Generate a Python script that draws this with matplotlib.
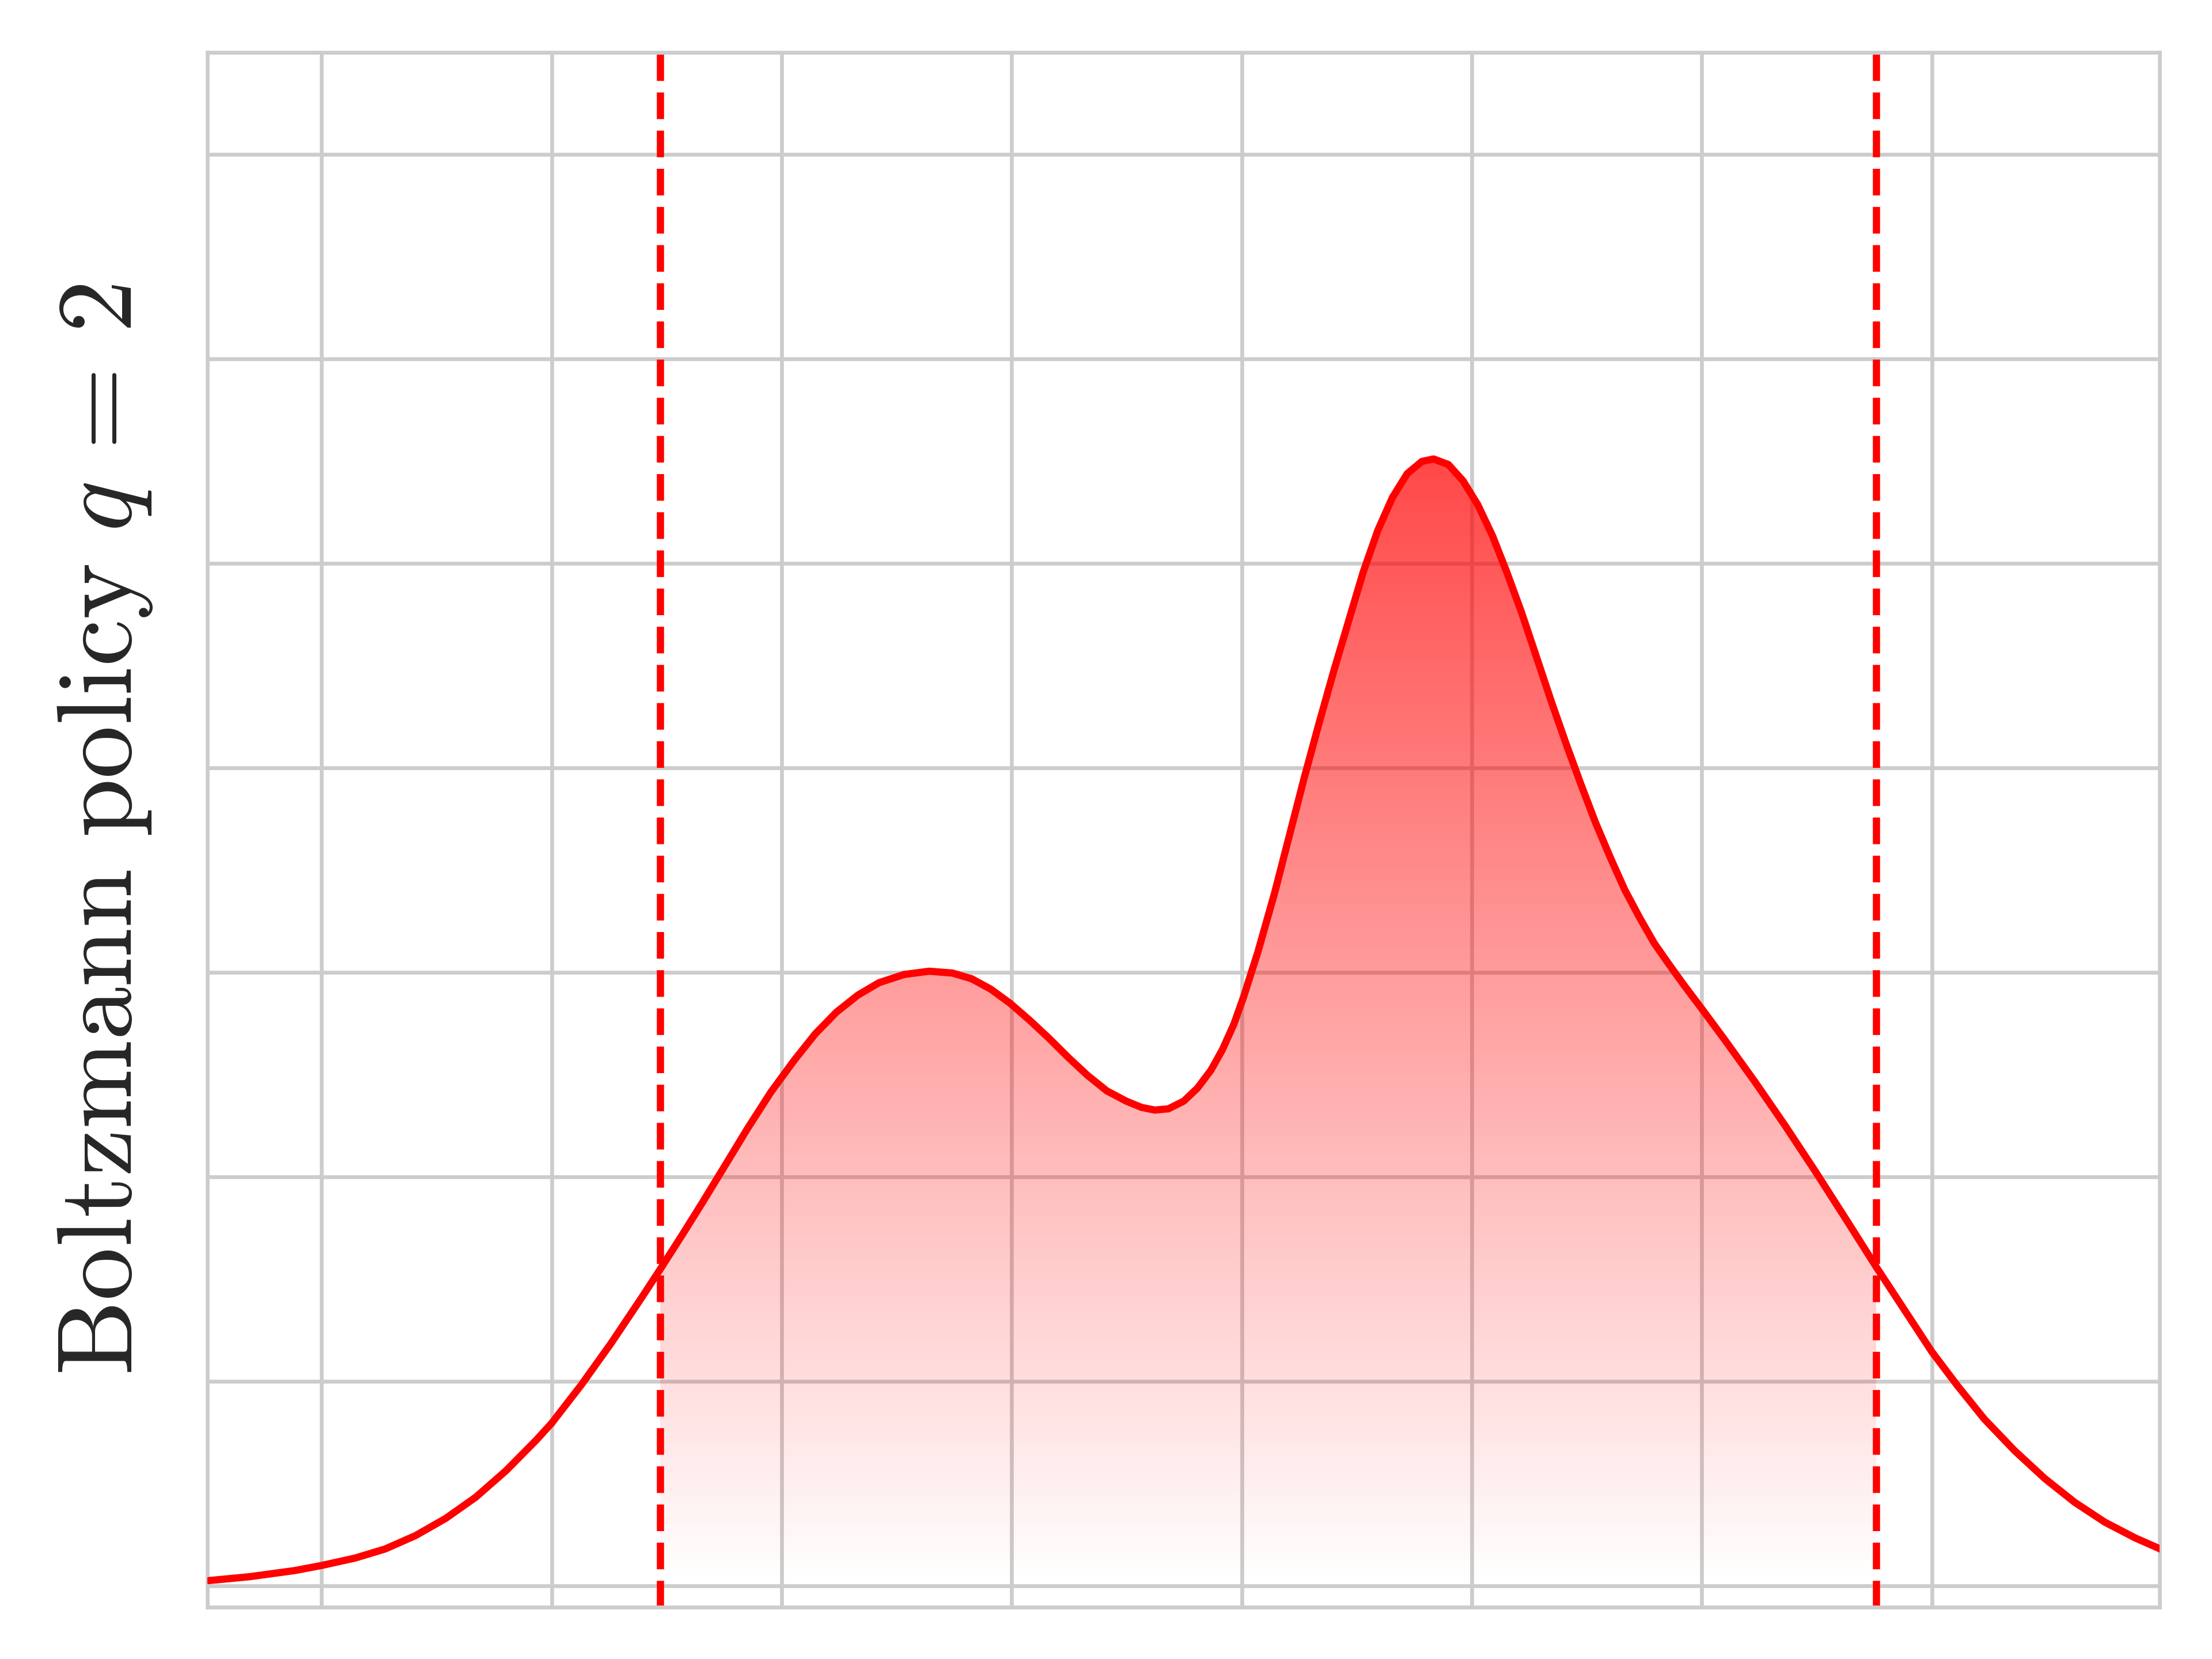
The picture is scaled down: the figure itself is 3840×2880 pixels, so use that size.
import numpy as np
import matplotlib
matplotlib.use("Agg")
import matplotlib.pyplot as plt
import seaborn as sns

# ---- data (x in grid units, y in grid units) ----
x_vals = [-0.490, -0.313, -0.117, 0.000, 0.145, 0.277, 0.408, 0.539, 0.670, 0.801,
          0.932, 1.000, 1.128, 1.259, 1.390, 1.472, 1.567, 1.651, 1.752, 1.852,
          1.953, 2.054, 2.146, 2.238, 2.331, 2.423, 2.532, 2.641, 2.742, 2.826,
          2.909, 2.993, 3.077, 3.161, 3.245, 3.329, 3.413, 3.497, 3.564, 3.622,
          3.681, 3.748, 3.807, 3.866, 3.916, 3.966, 4.008, 4.070, 4.143, 4.207,
          4.271, 4.335, 4.399, 4.463, 4.527, 4.591, 4.655, 4.719, 4.783, 4.834,
          4.898, 4.962, 5.026, 5.090, 5.153, 5.217, 5.281, 5.345, 5.409, 5.473,
          5.537, 5.601, 5.665, 5.729, 5.793, 5.857, 5.921, 6.000, 6.100, 6.231,
          6.362, 6.493, 6.625, 6.758, 6.887, 7.000, 7.110, 7.228, 7.360, 7.491,
          7.622, 7.753, 7.885, 7.996]
y_vals = [0.026, 0.045, 0.075, 0.100, 0.136, 0.181, 0.246, 0.330, 0.434, 0.563,
          0.712, 0.796, 0.982, 1.188, 1.408, 1.549, 1.716, 1.867, 2.053, 2.238,
          2.415, 2.570, 2.700, 2.806, 2.889, 2.950, 2.990, 3.006, 2.997, 2.969,
          2.918, 2.849, 2.767, 2.679, 2.585, 2.497, 2.421, 2.371, 2.340, 2.327,
          2.333, 2.371, 2.434, 2.522, 2.623, 2.748, 2.881, 3.100, 3.390, 3.670,
          3.950, 4.215, 4.471, 4.713, 4.955, 5.161, 5.323, 5.439, 5.499, 5.511,
          5.484, 5.404, 5.287, 5.135, 4.955, 4.758, 4.543, 4.327, 4.121, 3.924,
          3.735, 3.565, 3.404, 3.269, 3.143, 3.040, 2.940, 2.822, 2.670, 2.465,
          2.251, 2.028, 1.796, 1.560, 1.339, 1.145, 0.981, 0.816, 0.661, 0.525,
          0.408, 0.311, 0.234, 0.179]
bounds = [1.472, 6.758]
x_ticks = [0, 1, 2, 3, 4, 5, 6, 7]
y_ticks = [0, 1, 2, 3, 4, 5, 6, 7]
ylabel_text = r'$\mathrm{Boltzmann\ policy}\ q\, =\, 2$'

sns.set_theme(style="whitegrid", context="paper")
plt.rcParams['mathtext.fontset'] = 'cm'
plt.rcParams['font.family'] = ['DejaVu Sans']

x = np.array(x_vals)
y = np.array(y_vals)

fig = plt.figure(figsize=(6.4, 4.8), dpi=600)
ax = fig.add_axes([0.09375, 0.03125, 0.9763 - 0.09375, 0.9685 - 0.03125])

ax.set_xticks(x_ticks)
ax.set_yticks(y_ticks)
ax.set_xticklabels([])
ax.set_yticklabels([])
ax.tick_params(length=0)
ax.grid(True, color='#cccccc', linewidth=0.8)
for s in ax.spines.values():
    s.set_color('#cccccc')
    s.set_linewidth(0.8)

# gradient fill between bounds
mask = (x >= bounds[0]) & (x <= bounds[1])
fb = ax.fill_between(x, 0, y, where=mask, facecolor='none', edgecolor='none')
ymax = y.max()
n = 512
grad = np.zeros((n, 1, 4))
grad[:, 0, 0] = 1.0
grad[:, 0, 3] = np.linspace(0, 0.72, n)
im = ax.imshow(grad, origin='lower', aspect='auto',
               extent=[bounds[0], bounds[1], 0, ymax], zorder=1,
               interpolation='bilinear')
im.set_clip_path(fb.get_paths()[0], transform=ax.transData)

for b in bounds:
    ax.axvline(b, color='red', linestyle='--', linewidth=1.5, zorder=2)
ax.plot(x, y, color='red', linewidth=1.5, zorder=3, solid_joinstyle='round')

ax.set_xlim(-0.497, 7.99)
ax.set_ylim(-0.104, 7.5)

ax.set_ylabel(ylabel_text, fontsize=22.2, color='#262626')
ax.yaxis.set_label_coords(-0.027, 0.5)

fig.savefig('out.png', dpi=600)
